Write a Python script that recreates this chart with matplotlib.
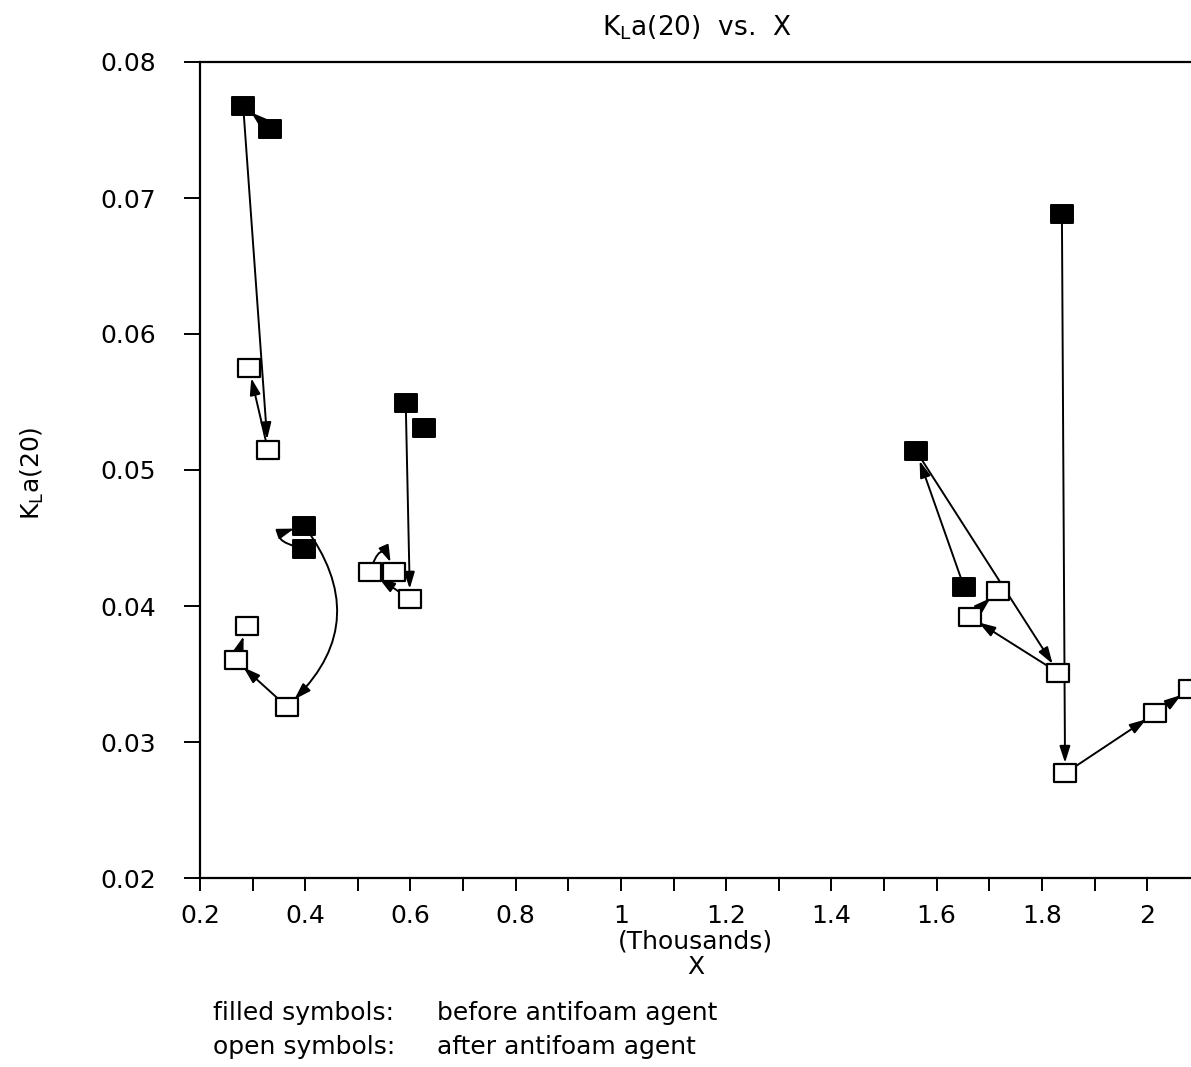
import matplotlib.pyplot as plt
from matplotlib.path import Path
from matplotlib.ticker import MultipleLocator, FuncFormatter

# X (thousands) and KLa(20) before adding the antifoam agent
before_x = [0.282, 0.333, 0.591, 0.626, 0.398, 0.398, 1.561, 1.652, 1.838]
before_y = [0.0768, 0.0751, 0.0549, 0.0531, 0.0459, 0.0442, 0.0514, 0.0414, 0.0688]

# ... and after adding it
after_x = [0.293, 0.329, 0.289, 0.268, 0.365, 0.523, 0.569, 0.599,
           1.663, 1.717, 1.831, 1.844, 2.015, 2.081]
after_y = [0.0575, 0.0515, 0.0385, 0.0360, 0.0326, 0.0425, 0.0425, 0.0405,
           0.0392, 0.0411, 0.0351, 0.0277, 0.0321, 0.0339]

# sequence of measurements, ("b" = before, "a" = after, index)
steps = [
    (("b", 1), ("b", 0)),
    (("b", 0), ("a", 1)),
    (("a", 1), ("a", 0)),
    (("b", 5), ("b", 4)),
    (("b", 4), ("a", 4)),
    (("a", 4), ("a", 3)),
    (("a", 3), ("a", 2)),
    (("b", 2), ("a", 7)),
    (("a", 7), ("a", 5)),
    (("a", 5), ("a", 6)),
    (("b", 7), ("b", 6)),
    (("b", 6), ("a", 10)),
    (("a", 10), ("a", 8)),
    (("a", 8), ("a", 9)),
    (("b", 8), ("a", 11)),
    (("a", 11), ("a", 12)),
    (("a", 12), ("a", 13)),
]
bends = {3: -2.0, 4: -0.45, 9: -1.6}

plt.rcParams["font.family"] = ["DejaVu Sans"]
FS = 18


def punkt(p):
    s, i = p
    if s == "b":
        return before_x[i], before_y[i]
    return after_x[i], after_y[i]


W, H = 1191, 1067
fig = plt.figure(figsize=(W / 100, H / 100), dpi=100)
ax = fig.add_axes([200 / W, 189 / H, 991 / W, 816 / H])
ax.set_xlim(0.2, 0.2 + 991 / 526.2)
ax.set_ylim(0.02, 0.08)

# wider than tall box symbol
box = Path([(-1, -0.78), (1, -0.78), (1, 0.78), (-1, 0.78), (-1, -0.78)],
           [Path.MOVETO, Path.LINETO, Path.LINETO, Path.LINETO, Path.CLOSEPOLY])

for k, (a, b) in enumerate(steps):
    rad = bends.get(k, 0.0)
    ax.annotate("", xy=punkt(b), xytext=punkt(a),
                arrowprops=dict(arrowstyle="-|>,head_length=0.5,head_width=0.16",
                                mutation_scale=20, color="black", lw=1.4,
                                shrinkA=0, shrinkB=7.5,
                                connectionstyle=f"arc3,rad={rad}"),
                zorder=2)

ax.plot(before_x, before_y, ls="none", marker=box, ms=16.3, mfc="black",
        mec="black", mew=1.4, zorder=3)
ax.plot(after_x, after_y, ls="none", marker=box, ms=16.3, mfc="white",
        mec="black", mew=1.6, zorder=3)

ax.spines["right"].set_visible(False)
for s in ("left", "bottom", "top"):
    ax.spines[s].set_linewidth(1.6)

ax.xaxis.set_major_locator(MultipleLocator(0.2))
ax.xaxis.set_minor_locator(MultipleLocator(0.1))
ax.xaxis.set_major_formatter(FuncFormatter(lambda v, _: f"{v:g}"))
ax.yaxis.set_major_locator(MultipleLocator(0.01))
ax.yaxis.set_major_formatter(FuncFormatter(lambda v, _: f"{v:.2f}"))
ax.tick_params(axis="x", which="both", direction="out", length=9.5, width=1.4,
               labelsize=FS, pad=9)
ax.tick_params(axis="y", direction="out", length=11.5, width=1.4,
               labelsize=FS, pad=20)

ax.set_xlabel("(Thousands)\nX", fontsize=FS, linespacing=1.1, labelpad=1)
fig.text(32 / W, 1 - 473 / H, r"K$_\mathregular{L}$a(20)", rotation=90,
         ha="center", va="center", fontsize=FS)
fig.text(697 / W, 1 - 28 / H, r"K$_\mathregular{L}$a(20)  vs.  X",
         ha="center", va="center", fontsize=19)

fig.text(213 / W, 1 - 1013 / H, "filled symbols:", va="center", fontsize=FS)
fig.text(437 / W, 1 - 1013 / H, "before antifoam agent", va="center", fontsize=FS)
fig.text(213 / W, 1 - 1047 / H, "open symbols:", va="center", fontsize=FS)
fig.text(437 / W, 1 - 1047 / H, "after antifoam agent", va="center", fontsize=FS)

fig.savefig("out.png", dpi=100)
